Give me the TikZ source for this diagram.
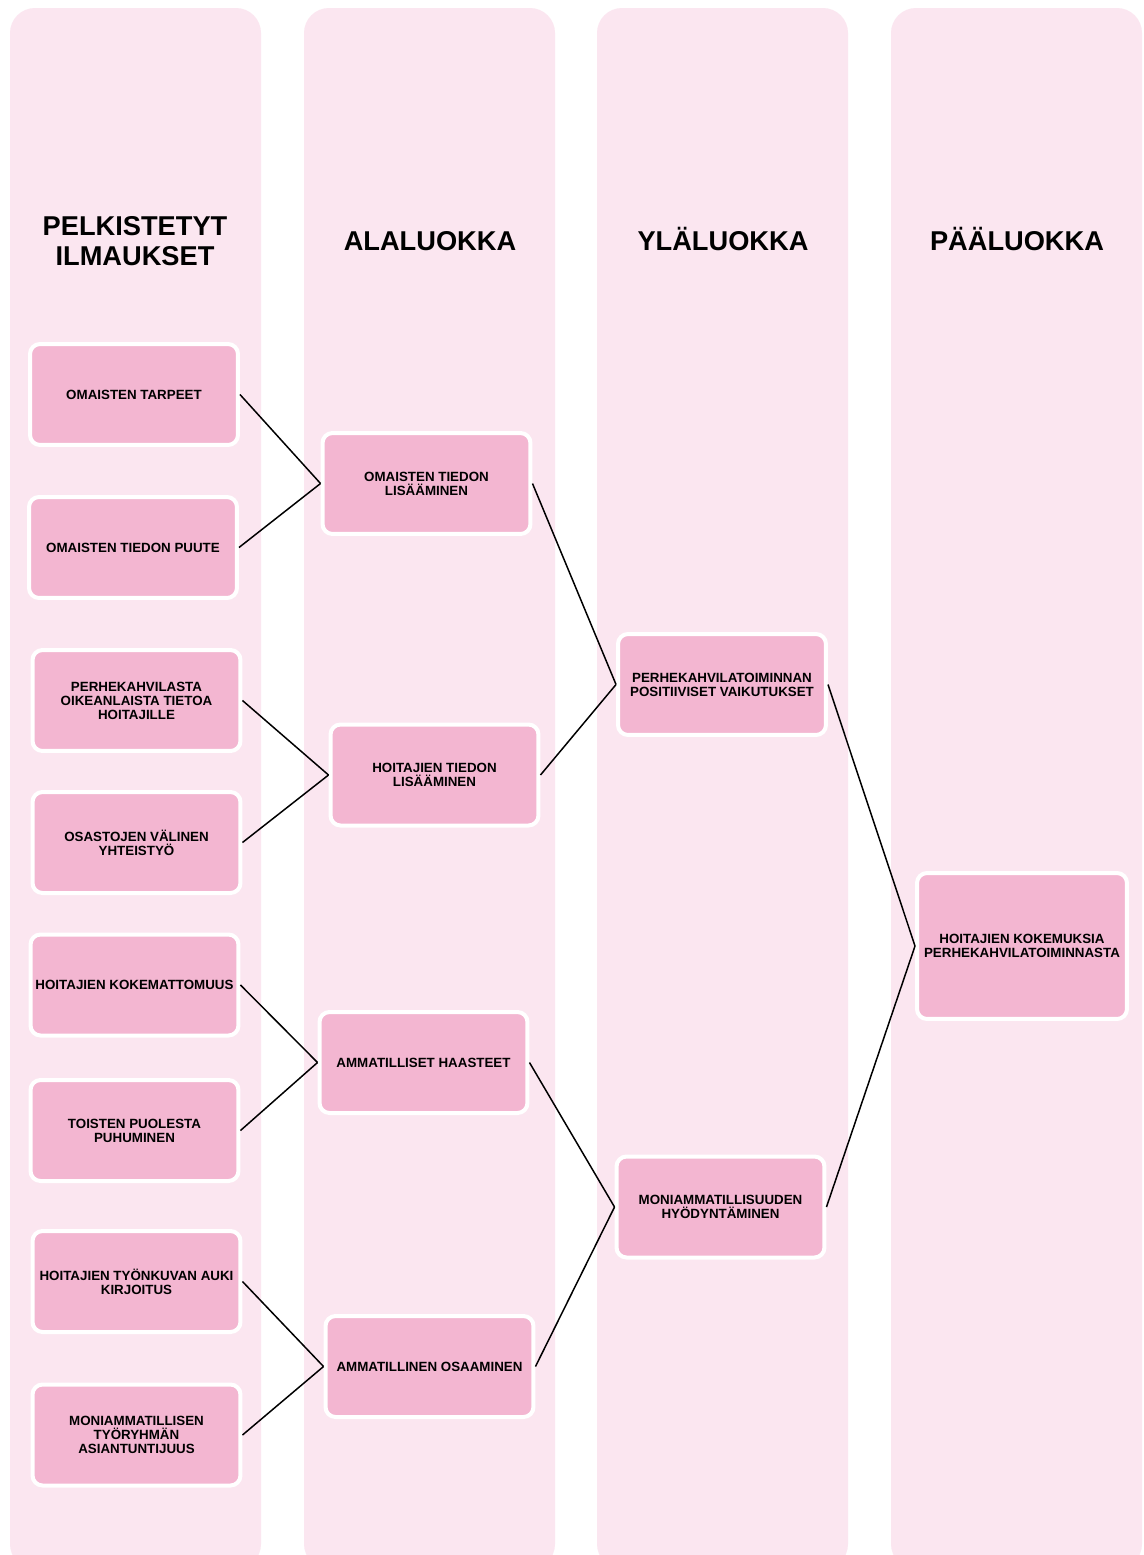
\documentclass[tikz,border=0pt]{standalone}
\usepackage{fontspec}
\setmainfont{Liberation Sans}
\definecolor{colbg}{RGB}{251,230,240}
\definecolor{boxfill}{RGB}{243,182,209}
\tikzstyle{catbox}=[rounded corners=0.2cm,draw=white,line width=0.08cm,fill=boxfill,minimum width=4.16cm,minimum height=2.02cm,inner sep=1pt,align=center,font=\fontsize{7.6}{8}\selectfont\bfseries]
\tikzstyle{header}=[align=center,font=\fontsize{15.5}{17}\selectfont\bfseries]

\begin{document}
\begin{tikzpicture}[x=0.02cm,y=-0.02cm]
  \clip (0,0) rectangle (1143,1555);
  \fill[white] (0,0) rectangle (1143,1555);
  \foreach \x in {10,304,597,891}
  \fill[colbg, rounded corners=0.5cm] (\x,8) rectangle ++(251,1561);

  \node[header] (h1) at (135,241) {PELKISTETYT\\ILMAUKSET};
  \node[header, anchor=base] (h2) at (430,250.7) {ALALUOKKA};
  \node[header, anchor=base] (h3) at (723,250.7) {YLÄLUOKKA};
  \node[header, anchor=base] (h4) at (1017,250.7) {PÄÄLUOKKA};

  \node[catbox] (a1) at (134,394.5)   {OMAISTEN TARPEET};
  \node[catbox] (a2) at (133,547.5)   {OMAISTEN TIEDON PUUTE};
  \node[catbox] (a3) at (136.5,700.5) {PERHEKAHVILASTA\\OIKEANLAISTA TIETOA\\HOITAJILLE};
  \node[catbox] (a4) at (136.5,842.5) {OSASTOJEN VÄLINEN\\YHTEISTYÖ};
  \node[catbox] (a5) at (134.5,985)   {HOITAJIEN KOKEMATTOMUUS};
  \node[catbox] (a6) at (134.5,1130.5) {TOISTEN PUOLESTA\\PUHUMINEN};
  \node[catbox] (a7) at (136.5,1281.5) {HOITAJIEN TYÖNKUVAN AUKI\\KIRJOITUS};
  \node[catbox] (a8) at (136.5,1435)  {MONIAMMATILLISEN\\TYÖRYHMÄN\\ASIANTUNTIJUUS};

  \node[catbox] (b1) at (426.5,483.5) {OMAISTEN TIEDON\\LISÄÄMINEN};
  \node[catbox] (b2) at (434.5,775)   {HOITAJIEN TIEDON\\LISÄÄMINEN};
  \node[catbox] (b3) at (423.5,1062.5) {AMMATILLISET HAASTEET};
  \node[catbox] (b4) at (429.5,1366.5) {AMMATILLINEN OSAAMINEN};

  \node[catbox] (c1) at (722,684.5)   {PERHEKAHVILATOIMINNAN\\POSITIIVISET VAIKUTUKSET};
  \node[catbox] (c2) at (720.5,1207)  {MONIAMMATILLISUUDEN\\HYÖDYNTÄMINEN};

  \node[catbox, minimum width=4.2cm, minimum height=2.92cm] (d1) at (1022,946) {HOITAJIEN KOKEMUKSIA\\PERHEKAHVILATOIMINNASTA};

  \foreach \from/\to in {a1/b1, a2/b1, a3/b2, a4/b2, a5/b3, a6/b3, a7/b4, a8/b4,
            b1/c1, b2/c1, b3/c2, b4/c2, c1/d1, c2/d1}
  \draw[line width=0.85pt] (\from.east) -- (\to.west);
\end{tikzpicture}
\end{document}
